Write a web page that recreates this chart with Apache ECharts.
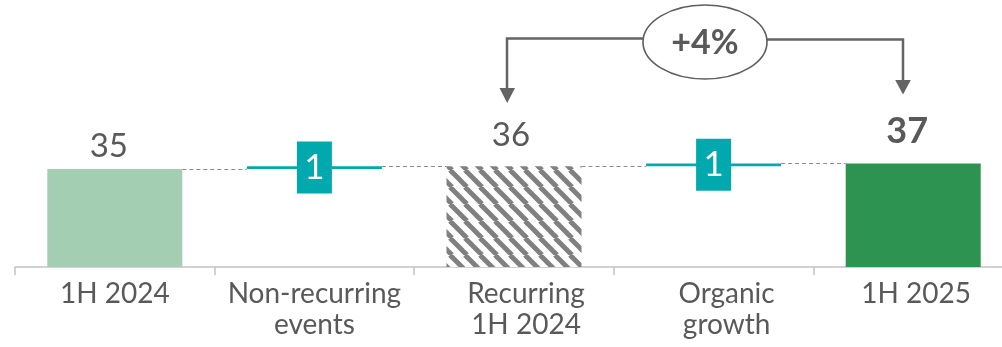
<!DOCTYPE html>
<html>
<head>
<meta charset="utf-8">
<script src="https://cdn.jsdelivr.net/npm/echarts@6/dist/echarts.min.js"></script>
<style>
  html, body { margin: 0; padding: 0; background: #ffffff; }
  #chart { width: 1002px; height: 347px; }
</style>
</head>
<body>
<div id="chart"></div>
<script>
// Bridge data: totals are full bars, deltas float on the running total
const categories = ['1H 2024', 'Non-recurring\nevents', 'Recurring\n1H 2024', 'Organic\ngrowth', '1H 2025'];
const totals = [35, null, 36, null, 37];
const deltas = [null, 1, null, 1, null];
const growthLabel = '+4%';

const FONT = 'Lato, "Open Sans", sans-serif';
const TEXT = '#595959';
const TEAL = '#00A9AE';
const LIGHT_GREEN = '#A3CEB1';
const DARK_GREEN = '#2D9350';

// Broken diagonal hatch for the recurring base bar
function hatchPattern() {
  const w = 15, h = 17;
  const c = document.createElement('canvas');
  c.width = w; c.height = h;
  const g = c.getContext('2d');
  g.fillStyle = '#ffffff';
  g.fillRect(0, 0, w, h);
  g.strokeStyle = '#808080';
  g.lineWidth = 5;
  for (const k of [-w, 0, w]) {
    g.beginPath();
    g.moveTo(k, 0);
    g.lineTo(k + h, h);
    g.stroke();
  }
  return { image: c, repeat: 'repeat' };
}

// Running totals give the floating base of each delta and the connector levels
const bases = [];
const levels = [];
let running = 0;
categories.forEach((_, i) => {
  if (totals[i] != null) {
    running = totals[i];
    bases.push('-');
  } else {
    bases.push(running);
    running += deltas[i];
  }
  levels.push(running);
});

const totalStyles = [
  { color: LIGHT_GREEN, label: { distance: 6, offset: [-6, 0] } },
  null,
  { color: hatchPattern(), label: { distance: 14, offset: [-3, 0] } },
  null,
  { color: DARK_GREEN, label: { distance: 14, offset: [-6, 0], fontWeight: 'bold', fontSize: 36 } }
];

const totalData = totals.map((v, i) => {
  if (v == null) return '-';
  const st = totalStyles[i];
  return { value: v, itemStyle: { color: st.color }, label: st.label };
});

// Category labels, some nudged to the right of their slot
const labelShift = [0, 0, 24, 26, 6];
const categoryData = categories.map((name, i) => ({
  value: name,
  textStyle: { padding: [0, 0, 0, labelShift[i]] }
}));

const BAR_W = 135;

const connectorData = levels.slice(0, -1).map((lv, i) => [i, lv]);

const chart = echarts.init(document.getElementById('chart'), null, { renderer: 'canvas' });

chart.setOption({
  animation: false,
  textStyle: { fontFamily: FONT },
  grid: { left: 15, width: 998, top: 155, height: 112, containLabel: false, outerBoundsMode: 'none' },
  xAxis: {
    type: 'category',
    data: categoryData,
    axisLine: { lineStyle: { color: '#C4C4C4', width: 1.5 } },
    axisTick: { show: true, length: 8, lineStyle: { color: '#C4C4C4', width: 1.5 } },
    axisLabel: {
      interval: 0, color: TEXT, fontSize: 28, lineHeight: 31,
      fontFamily: FONT, margin: 11
    }
  },
  yAxis: { type: 'value', min: 0, max: 40, show: false, splitLine: { show: false } },
  series: [
    {
      type: 'bar', stack: 'w', barWidth: BAR_W,
      data: bases,
      itemStyle: { color: 'transparent' },
      silent: true
    },
    {
      type: 'bar', stack: 'w', barWidth: BAR_W,
      data: deltas.map(v => (v == null ? '-' : v)),
      itemStyle: { color: TEAL },
      label: {
        show: true, position: 'inside', formatter: '{c}',
        color: '#ffffff', fontSize: 35, fontFamily: FONT,
        backgroundColor: TEAL, width: 35, height: 52, lineHeight: 52,
        align: 'center', verticalAlign: 'middle', padding: 0
      }
    },
    {
      type: 'bar', stack: 'w', barWidth: BAR_W,
      data: totalData,
      label: {
        show: true, position: 'top', color: TEXT, fontSize: 33, fontFamily: FONT
      }
    },
    {
      // dashed connectors between consecutive bar edges
      type: 'custom',
      data: connectorData,
      z: 1,
      renderItem: function (params, api) {
        const p = api.coord([api.value(0), api.value(1)]);
        const step = api.size([1, 0])[0];
        const y = Math.round(p[1]) + 0.5;
        return {
          type: 'line',
          shape: { x1: p[0] + BAR_W / 2, y1: y, x2: p[0] + step - BAR_W / 2, y2: y },
          style: { stroke: '#8C8C8C', lineWidth: 1, lineDash: [4, 3] }
        };
      }
    }
  ],
  graphic: [
    {
      type: 'polyline',
      shape: { points: [[507, 89], [507, 38.5], [643, 38.5]] },
      style: { stroke: '#646464', lineWidth: 2.5, fill: null }
    },
    {
      type: 'polygon',
      shape: { points: [[499.5, 88], [515, 88], [507.2, 103]] },
      style: { fill: '#646464' }
    },
    {
      type: 'polyline',
      shape: { points: [[767, 39.5], [903, 39.5], [903, 81]] },
      style: { stroke: '#646464', lineWidth: 2.5, fill: null }
    },
    {
      type: 'polygon',
      shape: { points: [[895.2, 80], [910.8, 80], [903, 94.5]] },
      style: { fill: '#646464' }
    },
    {
      type: 'ellipse',
      shape: { cx: 705, cy: 42, rx: 62, ry: 37 },
      style: { stroke: '#5E5E5E', lineWidth: 1.6, fill: '#ffffff' },
      z: 10
    },
    {
      type: 'text',
      x: 705, y: 43, z: 11,
      style: {
        text: growthLabel, fill: TEXT, font: 'bold 34px ' + FONT,
        textAlign: 'center', textVerticalAlign: 'middle'
      }
    }
  ]
});
</script>
</body>
</html>
